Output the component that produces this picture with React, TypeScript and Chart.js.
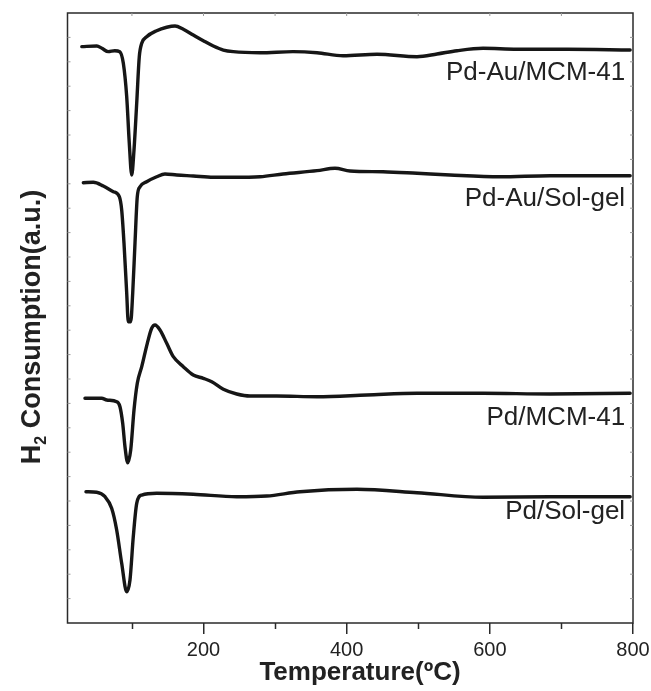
import React, { useEffect, useRef } from 'react';
import { Chart, registerables } from 'chart.js';

Chart.register(...registerables);

// ---- Data (temperature in ºC, H2 consumption in a.u., curves stacked with offsets) ----
const SERIES_NAMES = ['Pd-Au/MCM-41', 'Pd-Au/Sol-gel', 'Pd/MCM-41', 'Pd/Sol-gel'];

const T_PDAU_MCM = [30, 51, 58, 67, 76, 83, 88, 92.7, 96.3, 99.7, 102.9, 106.7, 110.3, 113.7, 120.6, 134.6, 148.6, 160.2, 171.8, 185.7, 199.7, 213.7, 227.7, 241.6, 279, 325, 358.6, 394.9, 442.4, 498.3, 526.2, 554.2, 590.5, 638, 707.8, 796];
const V_PDAU_MCM = [94.48, 94.59, 94.21, 93.66, 93.82, 93.66, 91.75, 86.28, 78.69, 73.44, 77.54, 85.25, 92.84, 95.03, 96.11, 97.1, 97.66, 97.87, 97.33, 96.39, 95.46, 94.59, 93.93, 93.66, 93.49, 93.66, 93.49, 93.0, 93.23, 92.84, 93.28, 93.82, 94.21, 94.05, 94.05, 93.93];

const T_PDAU_SOL = [32.1, 46, 60, 74, 82.4, 85.7, 88.9, 92.7, 94.9, 98.3, 101.1, 104.3, 107.5, 111.3, 120.6, 134.6, 146.2, 162.6, 185.7, 213.7, 241.6, 279, 311.1, 358.6, 383.7, 404.7, 450.8, 498.3, 544.4, 614.2, 684.1, 796];
const V_PDAU_SOL = [72.18, 72.25, 71.64, 70.71, 69.89, 67.7, 62.3, 54.1, 49.39, 49.39, 54.1, 62.3, 69.89, 71.52, 72.34, 73.16, 73.61, 73.44, 73.28, 73.07, 73.07, 73.16, 73.61, 74.15, 74.54, 74.1, 73.98, 73.72, 73.44, 73.16, 73.33, 73.33];

const T_PD_MCM = [34.4, 57.8, 64.8, 78.7, 83.3, 87.1, 90.3, 94.1, 98.3, 102.9, 107.5, 113.7, 121.5, 127.6, 132.3, 139.2, 148.6, 157.8, 171.8, 185.7, 199.7, 211.5, 227.7, 246.4, 265, 302.3, 358.6, 428.4, 498.3, 590.5, 684.1, 796];
const V_PD_MCM = [36.84, 36.84, 36.56, 36.28, 35.46, 32.74, 28.9, 26.28, 28.36, 34.92, 39.3, 42.02, 45.85, 48.31, 48.85, 48.03, 45.85, 43.66, 42.02, 40.66, 40.11, 39.56, 38.31, 37.54, 37.21, 37.21, 37.1, 37.38, 37.66, 37.66, 37.54, 37.66];

const T_PD_SOL = [35.8, 50.8, 62.4, 71.7, 78.7, 85.7, 92.7, 97.3, 101.9, 106.7, 113.7, 134.6, 185.7, 246.4, 288.3, 334.8, 414.4, 498.3, 590.5, 684.1, 796];
const V_PD_SOL = [21.52, 21.43, 20.7, 18.8, 15.25, 9.79, 5.13, 7.05, 14.15, 19.62, 20.98, 21.26, 21.1, 20.7, 20.82, 21.52, 21.92, 21.36, 20.61, 20.7, 20.7];

const X_TICKS = [100, 200, 300, 400, 500, 600, 700, 800];
const X_TICK_LABELS = ['200', '400', '600', '800'];
const X_TITLE = 'Temperature(ºC)';
const Y_TITLE_MAIN = 'H';
const Y_TITLE_SUB = '2';
const Y_TITLE_REST = ' Consumption(a.u.)';

// label anchors (data coordinates) for the curve names
const LABEL_T = 789;
const LABEL_V = [90.2, 69.6, 33.6, 18.2];

const SERIES_T = [T_PDAU_MCM, T_PDAU_SOL, T_PD_MCM, T_PD_SOL];
const SERIES_V = [V_PDAU_MCM, V_PDAU_SOL, V_PD_MCM, V_PD_SOL];

const FONT = '"Liberation Sans", Arial, Helvetica, sans-serif';
const AXIS_COLOR = '#2a2a2a';

const isMajor = (v: number) => X_TICK_LABELS.includes(String(v));

const decorPlugin = {
  id: 'decor',
  afterDraw(chart: any) {
    const { ctx, chartArea } = chart;
    const xs = chart.scales.x;
    const ys = chart.scales.y;
    const { left, right, top, bottom } = chartArea;
    ctx.save();
    // frame
    ctx.strokeStyle = AXIS_COLOR;
    ctx.lineWidth = 1.5;
    ctx.strokeRect(left, top, right - left, bottom - top);
    // short minor ticks on the bottom axis
    X_TICKS.filter((t) => !isMajor(t)).forEach((t) => {
      const px = Math.round(xs.getPixelForValue(t)) + 0.5;
      ctx.beginPath();
      ctx.moveTo(px, bottom);
      ctx.lineTo(px, bottom + 6);
      ctx.stroke();
    });
    // small top inward ticks and side ticks
    ctx.strokeStyle = '#9a9a9a';
    ctx.lineWidth = 1;
    for (let t = 100; t <= 700; t += 100) {
      const px = xs.getPixelForValue(t);
      ctx.beginPath();
      ctx.moveTo(px, top);
      ctx.lineTo(px, top + 3);
      ctx.stroke();
    }
    for (let v = 4; v < 100; v += 4) {
      const py = ys.getPixelForValue(v);
      ctx.beginPath();
      ctx.moveTo(left, py);
      ctx.lineTo(left + 3, py);
      ctx.moveTo(right, py);
      ctx.lineTo(right - 3, py);
      ctx.stroke();
    }
    // curve labels
    ctx.fillStyle = '#222';
    ctx.font = `26px ${FONT}`;
    ctx.textAlign = 'right';
    ctx.textBaseline = 'middle';
    SERIES_NAMES.forEach((name, i) => {
      ctx.fillText(name, xs.getPixelForValue(LABEL_T), ys.getPixelForValue(LABEL_V[i]));
    });
    // x title
    ctx.font = `bold 26px ${FONT}`;
    ctx.textAlign = 'center';
    ctx.textBaseline = 'middle';
    ctx.fillText(X_TITLE, 360, 673);
    // y title with subscript
    ctx.translate(31, 327);
    ctx.rotate(-Math.PI / 2);
    const bigFont = `bold 27px ${FONT}`;
    const smallFont = `bold 16px ${FONT}`;
    ctx.font = bigFont;
    const wMain = ctx.measureText(Y_TITLE_MAIN).width;
    const wRest = ctx.measureText(Y_TITLE_REST).width;
    ctx.font = smallFont;
    const wSub = ctx.measureText(Y_TITLE_SUB).width;
    const total = wMain + wSub + wRest;
    let x0 = -total / 2;
    ctx.textAlign = 'left';
    ctx.textBaseline = 'alphabetic';
    ctx.font = bigFont;
    ctx.fillText(Y_TITLE_MAIN, x0, 9);
    x0 += wMain;
    ctx.font = smallFont;
    ctx.fillText(Y_TITLE_SUB, x0, 15);
    x0 += wSub;
    ctx.font = bigFont;
    ctx.fillText(Y_TITLE_REST, x0, 9);
    ctx.restore();
  },
};

export default function App() {
  const canvasRef = useRef<HTMLCanvasElement | null>(null);

  useEffect(() => {
    document.body.style.margin = '0';
    const canvas = canvasRef.current;
    if (!canvas) return;
    const datasets = SERIES_NAMES.map((name, i) => ({
      label: name,
      data: SERIES_T[i].map((t, j) => ({ x: t, y: SERIES_V[i][j] })),
      borderColor: '#161616',
      borderWidth: 3.4,
      pointRadius: 0,
      fill: false,
      cubicInterpolationMode: 'monotone' as const,
      borderCapStyle: 'round' as const,
      borderJoinStyle: 'round' as const,
    }));
    const chart = new Chart(canvas, {
      type: 'line',
      data: { datasets },
      options: {
        responsive: false,
        animation: false,
        devicePixelRatio: 1,
        layout: { padding: { top: 13, right: 18, left: 0, bottom: 0 } },
        plugins: { legend: { display: false }, tooltip: { enabled: false }, title: { display: false } },
        scales: {
          x: {
            type: 'linear',
            min: 10,
            max: 800,
            border: { display: false },
            afterBuildTicks: (s: any) => {
              s.ticks = X_TICKS.map((v) => ({ value: v }));
            },
            grid: {
              display: true,
              drawOnChartArea: false,
              drawTicks: true,
              tickLength: 11,
              lineWidth: 1.5,
              color: (c: any) => (c.tick && isMajor(c.tick.value) ? AXIS_COLOR : 'rgba(0,0,0,0)'),
            },
            ticks: {
              autoSkip: false,
              maxRotation: 0,
              minRotation: 0,
              padding: 4,
              color: '#222',
              font: { family: FONT, size: 20 },
              callback: (v: any) => (isMajor(v) ? String(v) : ''),
            },
            afterFit: (s: any) => {
              s.height = 68;
              s.paddingLeft = 0;
              s.paddingRight = 0;
            },
          },
          y: {
            type: 'linear',
            min: 0,
            max: 100,
            border: { display: false },
            grid: { display: false },
            ticks: { display: false },
            afterFit: (s: any) => {
              s.width = 67.5;
            },
          },
        },
      },
      plugins: [decorPlugin],
    });
    return () => chart.destroy();
  }, []);

  return <canvas ref={canvasRef} width={651} height={691} style={{ display: 'block' }} />;
}
